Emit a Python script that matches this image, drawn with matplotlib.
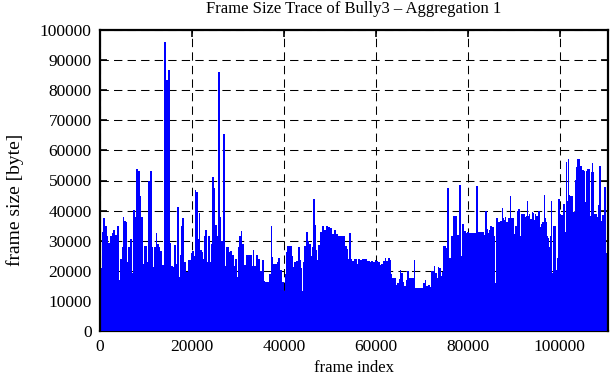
import matplotlib
matplotlib.use("Agg")
import matplotlib.pyplot as plt
import numpy as np

# Frame index boundaries of the step segments (frames)
frame_edges = [
    0, 362, 652, 1087, 1449, 1812, 2174, 2536, 2898, 3261, 3623, 4130, 4348, 4710, 4927,
    5290, 5579, 5942, 6159, 6594, 6884, 7174, 7536, 7826, 8333, 8623, 8840, 9275, 9565,
    10144, 10434, 10869, 11231, 11521, 11811, 12101, 12391, 12753, 13115, 13478, 13840,
    14275, 14709, 15144, 15434, 15869, 16086, 16448, 16738, 17101, 17318, 17608, 17898,
    18332, 18767, 19057, 19782, 20071, 20361, 20651, 20941, 21231, 21521, 21810, 22100,
    22390, 22608, 22897, 23187, 23477, 23912, 24129, 24419, 24709, 25071, 25361, 25651,
    26086,
    26375, 26810, 27173, 27390, 28042, 28259, 28622, 29129, 29346, 29781, 29998, 30216,
    30651, 30868, 31303, 31737, 33042, 33259, 33549, 33911, 34346, 34708, 35216, 35578,
    35868, 36737, 37100, 37389, 37679, 38404, 38694, 39056, 39636, 39925, 40215, 40433,
    40723, 41665, 42027, 42244, 42679, 43041, 43404, 43693, 43911, 44128, 44418, 44853,
    45143, 45360, 45795, 46012, 46302, 46737, 46954, 47244, 47389, 47824, 48258, 48693,
    49128, 49563, 49997, 50432, 50867, 51302, 51664, 52171, 53258,
    53693, 53910, 54128, 54562, 54780, 55215, 55867, 56084, 56519, 56954, 58040, 58693,
    59055, 59417, 59780, 60142, 60504, 60866, 61229, 61591, 61953, 62316, 62678, 63040,
    63403, 63620, 64489, 64707, 65069, 65286, 65576, 65866, 66156, 66518, 66736, 67315,
    68257, 68620, 70359, 70649, 71011, 71373, 71735, 72098, 72677, 72967, 73257, 73474,
    73836, 74126, 74343, 74561, 74996, 75213, 75431, 75865, 76300, 76735, 77605, 78039,
    78474, 78692, 79126, 79561, 79778, 80213, 80431,
    81735, 82170, 82604, 83474, 83691, 84126, 84343, 84561, 84778, 85213, 85648, 85865,
    86082, 86517, 86952, 87387, 87604, 87822, 88039, 88256, 88691, 89126, 89343, 89995,
    90213, 90648, 90865, 91300, 91517, 92387, 92604, 92821, 93039, 93256, 93473, 93908,
    94126, 94343, 94560, 94778, 95212, 95647, 95864, 96082, 96517, 96734, 96951, 97169,
    97386, 97604, 97821, 98038, 98256, 98473, 99125, 99342, 99560, 99995, 100212, 100647,
    101082, 101299, 101516, 101734, 101951, 102169, 102821, 103255, 103473, 103690,
    104342, 104777, 105212, 105429, 105646, 105864, 106516, 106733, 106951, 107168,
    107385, 108038, 108255, 108473, 108907, 109125, 109560, 109994, 110212, 110502,
]

# Peak frame size within each segment (bytes)
frame_sizes = [
    21000, 33000, 37400, 35000, 31400, 29400, 31400, 32500, 33700, 32000,
    35000, 17000, 24000, 27800, 37900, 36700, 36300, 22800, 28000, 30500,
    19200, 40300, 38000, 53700, 53000, 44700, 38000, 22400, 28300, 23000,
    50000, 53000, 27800, 21400, 28000, 32700, 29000, 27800, 26700, 21900,
    96100, 83300, 86700, 29200, 21700, 21400, 28600, 22400, 41300, 17800,
    25200, 35000, 37400, 23000, 19700, 23700, 25900, 26600, 25000, 47000,
    46100, 30500, 39100, 27000, 26100, 23900, 31400, 33700, 23000, 31700,
    22800, 28800, 51000, 47400, 35200, 31700, 86100,
    38000, 30000, 65300, 21700, 27800, 26100, 26700, 25200, 21700, 23900,
    17800, 28000, 31700, 33300, 28900, 21900, 25200, 21700, 27000, 21700,
    25200, 23900, 20000, 23700, 16700, 16300, 18900, 35000, 24700, 22200,
    22800, 24300, 20200, 16300, 13300, 18900, 26300, 28300, 25000, 21100,
    23000, 23300, 28000, 23600, 20900, 13300, 23000, 28300, 33000, 30000,
    28900, 25000, 28000, 43700, 35100, 27000, 23700, 28700, 32800, 35000,
    33700, 35000, 34600, 34200, 32200, 33700, 32200, 31400, 31700,
    28300, 27200, 23900, 32500, 23900, 23100, 23900, 22400, 23900, 23600,
    23900, 23300, 23000, 23300, 23000, 23600, 23300, 23000, 21900, 22200,
    23300, 24300, 23300, 24300, 23600, 18900, 17700, 15200, 15800, 17200,
    20300, 19200, 16300, 15000, 17000, 20000, 17700, 23700, 14400, 15900,
    17000, 14800, 15300, 14700, 19900, 21700, 19400, 17700, 21300, 21000,
    18300, 19700, 28300, 28100, 27700, 47600, 24100, 31700, 38300, 32000,
    48600, 25000, 35600, 33200, 32500, 33000, 32500,
    32500, 48300, 32800, 33000, 32000, 39800, 33900, 32500, 33700, 35000,
    34600, 31700, 15800, 37700, 36100, 36700, 40800, 37400, 37000, 38000,
    36300, 37700, 44700, 37700, 32100, 34800, 40000, 40600, 31700, 39000,
    37800, 38300, 43300, 38300, 38800, 37200, 39700, 39200, 37000, 38800,
    38300, 40000, 34600, 35600, 36300, 45200, 37400, 36300, 31400, 31000,
    27800, 31700, 43300, 19400, 35000, 20300, 24400, 43900, 38900, 38700,
    42200, 32800, 56300, 43100, 57200, 45200, 44700, 39400, 50300, 54400,
    57000, 54700, 53400, 53100, 42800, 53100, 53700, 38300, 52800, 55800,
    52800, 39000, 38000, 41700, 54700, 36600, 38700, 48000, 25800, 13600,
]

x_ticks = [0, 20000, 40000, 60000, 80000, 100000]
y_ticks = [0, 10000, 20000, 30000, 40000, 50000, 60000, 70000, 80000, 90000, 100000]

title = "Frame Size Trace of Bully3 \u2013 Aggregation 1"
x_label = "frame index"
y_label = "frame size [byte]"

plt.rcParams["font.family"] = ["Liberation Serif", "DejaVu Serif"]
plt.rcParams["font.size"] = 12

fig = plt.figure(figsize=(6.11, 3.80), dpi=100)
ax = fig.add_axes([100 / 611, 1 - 331 / 380, 508 / 611, 301 / 380])

ax.stairs(frame_sizes, frame_edges, fill=True, color="#0000ff", baseline=0,
          linewidth=0, zorder=1)

ax.set_xlim(0, 110500)
ax.set_ylim(0, 100000)
ax.set_xticks(x_ticks)
ax.set_yticks(y_ticks)
ax.set_xticklabels([str(v) for v in x_ticks])
ax.set_yticklabels([str(v) for v in y_ticks])

ax.set_axisbelow(True)
ax.grid(True, color="black", linestyle=(0, (8, 5)), linewidth=0.75)

ax.tick_params(direction="in", length=5, width=1.2, top=True, right=True,
               pad=6, labelsize=12.5, colors="black")
for side, sp in ax.spines.items():
    sp.set_linewidth(1.6)
    sp.set_color("black")
ax.spines["bottom"].set_zorder(0.6)

ax.set_title(title, fontsize=12, pad=12)
ax.set_xlabel(x_label, fontsize=12, labelpad=3)
ax.set_ylabel(y_label, fontsize=14)
ax.yaxis.set_label_coords(-0.150, 0.435)

fig.savefig("out.png", dpi=100)
